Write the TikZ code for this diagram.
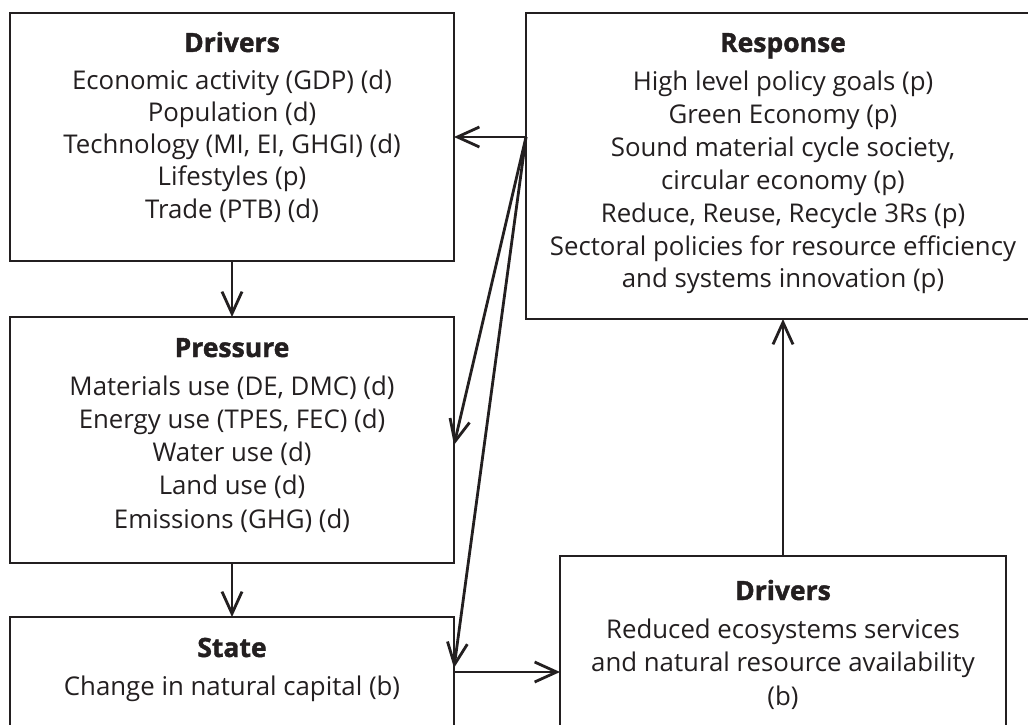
\documentclass[tikz,border=0pt]{standalone}
\usepackage{fontspec}
\setmainfont{Open Sans}
\newfontfamily\heavyfont{Open Sans}[BoldFeatures={FakeBold=1.5}]
\usetikzlibrary{arrows.meta}
\definecolor{ink}{HTML}{231F20}
\begin{document}
\begin{tikzpicture}[x=1pt,y=-1pt,
  box/.style={draw=ink, line width=2.9pt, inner sep=0pt, outer sep=0pt},
  ttl/.style={anchor=base, font=\heavyfont\fontsize{26.5}{30}\selectfont\bfseries, text=ink, inner sep=0pt},
  txt/.style={anchor=base, font=\fontsize{25.8}{30}\selectfont, text=ink, inner sep=0pt},
  arr/.style={draw=ink, line width=2.8pt, -{Straight Barb[length=22pt,width=20pt]}}
]
\useasboundingbox (0,0) rectangle (1028,725);
\clip (0,0) rectangle (1028,725);
\fill[white] (0,0) rectangle (1028,725);
% boxes
\node[box, minimum width=444pt, minimum height=248pt] (drv) at (232,137) {};
\node[box, minimum width=514pt, minimum height=306pt] (resp) at (783,166) {};
\node[box, minimum width=444pt, minimum height=246pt] (pres) at (232,440) {};
\node[box, minimum width=444pt, minimum height=110pt] (state) at (232,672) {};
\node[box, minimum width=446pt, minimum height=232pt] (ddrv) at (783,672) {};
% texts
\node[ttl] (drv-t) at (232,52) {Drivers};
\foreach \t [count=\i] in {Economic activity (GDP) (d), Population (d), {Technology (MI, EI, GHGI) (d)}, Lifestyles (p), Trade (PTB) (d)}
  \node[txt] (drv-\i) at (232,{89+32.25*(\i-1)}) {\t};
\node[ttl] (resp-t) at (783,52) {Response};
\foreach \t [count=\i] in {High level policy goals (p), Green Economy (p), {Sound material cycle society,}, circular economy (p), {Reduce, Reuse, Recycle 3Rs (p)}, Sectoral policies for resource efficiency, and systems innovation (p)}
  \node[txt] (resp-\i) at (783,{91+32.8*(\i-1)}) {\t};
\node[ttl] (pres-t) at (232,357) {Pressure};
\foreach \t [count=\i] in {{Materials use (DE, DMC) (d)}, {Energy use (TPES, FEC) (d)}, Water use (d), Land use (d), Emissions (GHG) (d)}
  \node[txt] (pres-\i) at (232,{395+33.25*(\i-1)}) {\t};
\node[ttl] (state-t) at (232,657) {State};
\node[txt] (state-1) at (232,695) {Change in natural capital (b)};
\node[ttl] (ddrv-t) at (783,600) {Drivers};
\foreach \t [count=\i] in {Reduced ecosystems services, and natural resource availability, (b)}
  \node[txt] (ddrv-\i) at (783,{638+33.5*(\i-1)}) {\t};
% connectors
\coordinate (src) at (resp.west |- drv.east);
\draw[arr] (drv.south) -- (pres.north);
\draw[arr] (pres.south) -- (state.north);
\draw[arr] (src) -- (drv.east);
\draw[arr] (src) -- ([yshift=-5pt]pres.east);
\draw[arr] (src) -- ([yshift=4pt]state.east);
\draw[arr] (state.east) -- (state.east -| ddrv.west);
\draw[arr] (ddrv.north) -- (resp.south);
\end{tikzpicture}
\end{document}
